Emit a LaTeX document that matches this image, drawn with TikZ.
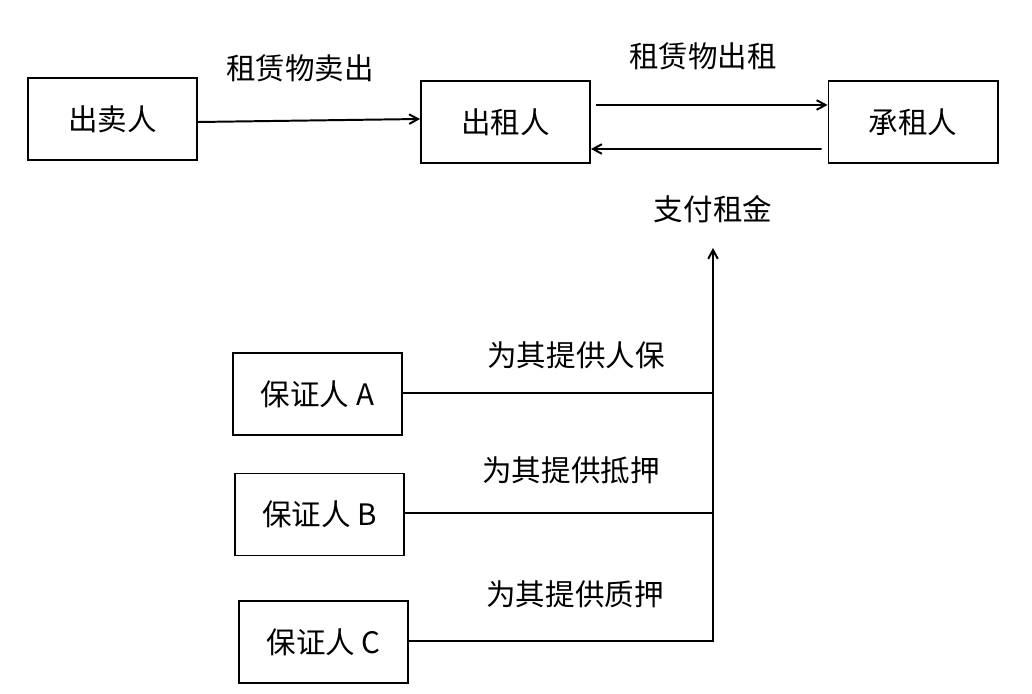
\documentclass[tikz,border=0pt]{standalone}
\usepackage{fontspec}
\setmainfont{Noto Sans CJK SC}
\usepackage{xcolor}
\usetikzlibrary{arrows.meta}

\tikzset{
  party/.style={draw, line width=1.4pt, minimum width=4.225cm, minimum height=2.05cm, inner sep=0pt},
  flowline/.style={line width=1.4pt, >={Straight Barb[length=2.2mm,width=2.4mm]}},
  flowlabel/.style={inner sep=0pt}
}

\begin{document}
\begin{tikzpicture}[x=0.025cm, y=-0.025cm, font=\fontsize{21}{25}\selectfont]
                    \useasboundingbox (0,0) rectangle (1032,694);
                    % Parties of the lease
                    \node[party] (seller) at (112.5,119) {出卖人};
                    \node[party] (lessor) at (505.5,122) {出租人};
                    \node[party] (lessee) at (913,122) {承租人};
                    % Guarantors
                    \node[party] (guarA) at (317.5,394) {保证人 A};
                    \node[party] (guarB) at (319.5,514.5) {保证人 B};
                    \node[party] (guarC) at (323.5,642) {保证人 C};
                    % Joints on the rent line
                    \coordinate (jA) at (713,393);
                    \coordinate (jB) at (713,513);
                    \coordinate (jC) at (713,641);
                    \coordinate (rentTop) at (713,248);
                    % Flows
                    \draw[flowline, ->] ([yshift=-0.075cm]seller.east) -- ([yshift=0.075cm]lessor.west);
                    \draw[flowline, ->] ([shift={(5,-17)}]lessor.east) -- ([yshift=0.425cm]lessee.west);
                    \draw[flowline, ->] ([shift={(-6,27)}]lessee.west) -- ([yshift=-0.675cm]lessor.east);
                    \draw[flowline] (guarA.east |- jA) -- (jA);
                    \draw[flowline] (guarB.east |- jB) -- (jB);
                    \draw[flowline, ->] (guarC.east |- jC) -- (jC) -- (rentTop);
                    % Labels
                    \node[flowlabel] (lblSell) at (300,68) {租赁物卖出};
                    \node[flowlabel] (lblLease) at (703,56) {租赁物出租};
                    \node[flowlabel] (lblRent) at (713,209) {支付租金};
                    \node[flowlabel] (lblA) at (576,355) {为其提供人保};
                    \node[flowlabel] (lblB) at (571,470) {为其提供抵押};
                    \node[flowlabel] (lblC) at (575,594) {为其提供质押};
                \end{tikzpicture}
\end{document}
